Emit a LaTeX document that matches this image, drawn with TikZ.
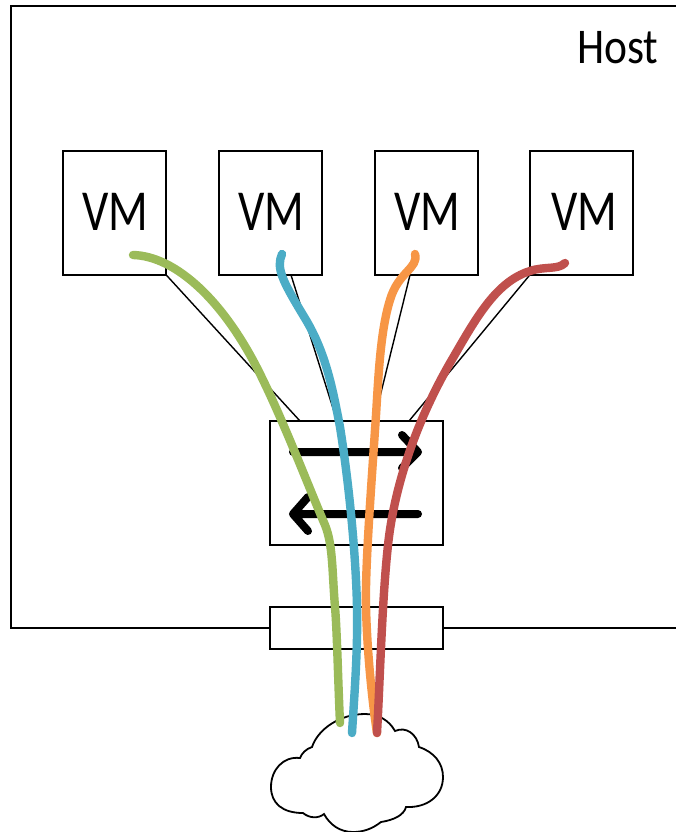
\documentclass[tikz,border=0pt]{standalone}
\usepackage{graphicx}
\usepackage{fontspec}
\setmainfont{Carlito}
\definecolor{cgreen}{HTML}{9BBB59}
\definecolor{cblue}{HTML}{4BACC6}
\definecolor{corange}{HTML}{F79646}
\definecolor{cred}{HTML}{C0504D}
\tikzset{
  x=1pt,y=-1pt,
  outline/.style={draw=black,line width=1.8pt},
  box/.style={outline,fill=white,minimum width=103.5pt,minimum height=124pt,inner sep=0pt,outer sep=0pt},
  wide/.style={outline,fill=white,minimum width=173pt,inner sep=0pt,outer sep=0pt},
  link/.style={draw=black,line width=1.4pt},
  flowarrow/.style={draw=black,line width=8pt,line cap=round,line join=round},
  wire/.style={line width=8.4pt,line cap=round,line join=round},
  vmlabel/.style={font=\fontsize{58}{58}\selectfont,inner sep=0pt},
}
\newcommand{\vmtext}{\scalebox{0.8}[1]{VM}}
\begin{document}
\begin{tikzpicture}
\useasboundingbox (0,0) rectangle (676,832);
\fill[white] (0,0) rectangle (676,832);
% host outline
\coordinate (hostTR) at (676,6);
\coordinate (hostTL) at (11,6);
\coordinate (hostBL) at (11,628);
\coordinate (hostBR) at (676,628);
\node[box,wide,minimum height=42pt] (nic) at (356.5,628) {};
\draw[outline] (hostTR) -- (hostTL) -- (hostBL) -- (nic.west);
\draw[outline] (nic.east) -- (hostBR);
\node[font=\fontsize{50}{50}\selectfont,inner sep=0pt] (host) at (618,47.5) {\scalebox{0.87}[1]{Host}};
% VMs
\node[box] (vm1) at (114.5,213) {};
\node[box] (vm2) at (270.5,213) {};
\node[box] (vm3) at (426.5,213) {};
\node[box] (vm4) at (581.5,213) {};
\node[vmlabel] (t1) at (115,211.5) {\vmtext};
\node[vmlabel] (t2) at (271,211.5) {\vmtext};
\node[vmlabel] (t3) at (427,211.5) {\vmtext};
\node[vmlabel] (t4) at (584,211.5) {\vmtext};
% switch
\node[box,wide,minimum height=124pt] (sw) at (356.5,483) {};
\coordinate (a1) at (300,421);
\coordinate (a2) at (337,421);
\coordinate (a3) at (374,421);
\coordinate (a4) at (409,421);
\coordinate (b2) at (291,275);
\coordinate (b3) at (410,275);
\draw[link] (vm1.south east) -- (a1);
\draw[link] (b2) -- (a2);
\draw[link] (b3) -- (a3);
\draw[link] (vm4.south west) -- (a4);
% arrows inside switch
\coordinate (r0) at (293,452);
\coordinate (r1) at (418,452);
\coordinate (r2) at (402,435);
\coordinate (r3) at (402,468);
\coordinate (l0) at (418,514);
\coordinate (l1) at (293,514);
\coordinate (l2) at (308,497);
\coordinate (l3) at (308,531);
\draw[flowarrow] (r0) -- (r1) (r2) -- (r1) -- (r3);
\draw[flowarrow] (l0) -- (l1) (l2) -- (l1) -- (l3);
% cloud
\draw[outline,fill=white] (303,813)
  .. controls (282,813) and (271,803) .. (271,787)
  .. controls (271,770) and (283,756) .. (300,758)
  .. controls (302,753) and (306,749) .. (312,747)
  .. controls (318,729) and (340,714) .. (365,714)
  .. controls (378,714) and (389,720) .. (395,731)
  .. controls (406,726) and (417,734) .. (419,747)
  .. controls (434,752) and (443,763) .. (443,777)
  .. controls (443,796) and (427,808) .. (406,807)
  .. controls (404,815) and (394,820) .. (381,822)
  .. controls (372,829) and (363,832) .. (353,832)
  .. controls (340,832) and (330,825) .. (324,814)
  .. controls (318,819) and (309,818) .. (303,813) -- cycle;
% flows
\draw[wire,cgreen] (133,255) .. controls (175,256) and (225,300) .. (263,380)
  .. controls (285,425) and (310,490) .. (325,525)
  .. controls (333,545) and (332,570) .. (335,607)
  .. controls (337,630) and (338,680) .. (340,723);
\draw[wire,cblue] (282,254) .. controls (276,268) and (282,280) .. (303,315)
  .. controls (325,350) and (332,385) .. (340,427)
  .. controls (350,490) and (356,560) .. (357,607)
  .. controls (358,650) and (354,700) .. (352,733);
\draw[wire,corange] (415,254) .. controls (419,268) and (398,272) .. (390,300)
  .. controls (379,335) and (378,390) .. (375,430)
  .. controls (371,490) and (365,570) .. (366,607)
  .. controls (367,650) and (372,700) .. (377,733);
\draw[wire,cred] (565,263) .. controls (558,270) and (545,266) .. (530,271)
  .. controls (495,282) and (475,320) .. (450,363)
  .. controls (420,415) and (395,480) .. (388,545)
  .. controls (382,600) and (380,680) .. (377,733);
\end{tikzpicture}
\end{document}
